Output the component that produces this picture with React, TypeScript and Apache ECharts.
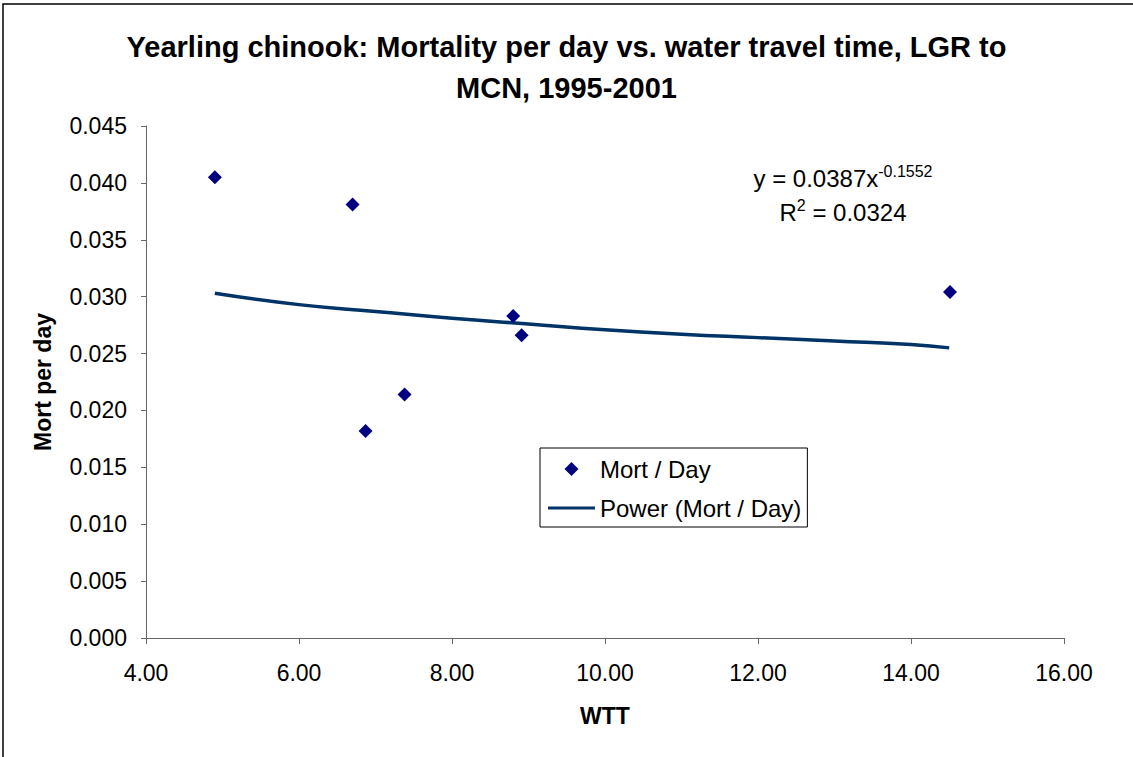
import * as echarts from "echarts";
import { useEffect, useRef } from "react";

// Water travel time (days) and mortality per day
const wtt = [4.9, 6.7, 6.87, 7.38, 8.8, 8.91, 14.51];
const mortPerDay = [0.0405, 0.0381, 0.0182, 0.0214, 0.0283, 0.0266, 0.0304];

// Power trend line as drawn by the spreadsheet
const trendX = [4.9, 6, 7, 8, 9, 10, 11, 12, 13, 14, 14.5];
const trendY = [0.0303, 0.0293, 0.0287, 0.0281, 0.0276, 0.0271, 0.0267, 0.0264, 0.0261, 0.0258, 0.0255];

const titleLines = ["Yearling chinook: Mortality per day vs. water travel time, LGR to", "MCN, 1995-2001"];
const equation = "y = 0.0387x";
const exponent = "-0.1552";
const rSquared = "0.0324";

const FONT = "'Liberation Sans', Arial, sans-serif";
const MARKER = "#000080";
const TREND = "#003366";

export default function App() {
  const ref = useRef<HTMLDivElement | null>(null);

  useEffect(() => {
    if (!ref.current) {
      return;
    }
    document.body.style.margin = "0";

    const chart = echarts.init(ref.current, undefined, { renderer: "svg" });
    chart.setOption({
      animation: false,
      backgroundColor: "#ffffff",
      textStyle: { fontFamily: FONT, color: "#000" },
      title: {
        text: titleLines.join("\n"),
        left: "center",
        top: 21,
        textStyle: { fontFamily: FONT, fontSize: 29, fontWeight: "bold", color: "#000", lineHeight: 41 }
      },
      grid: { left: 146, right: 69, top: 126, bottom: 119, containLabel: false },
      legend: {
        orient: "vertical",
        left: 540,
        top: 448,
        padding: [9, 6, 7, 8],
        itemWidth: 47,
        itemHeight: 14,
        itemGap: 15,
        symbolKeepAspect: true,
        borderColor: "#000",
        borderWidth: 1,
        borderRadius: 0,
        textStyle: { fontFamily: FONT, fontSize: 24, color: "#000" },
        data: [
          { name: "Mort / Day", icon: "path://M7,0 L14,7 L7,14 L0,7 Z" },
          { name: "Power (Mort / Day)", icon: "path://M0,0 L47,0 L47,3 L0,3 Z" }
        ]
      },
      xAxis: {
        type: "value",
        min: 4,
        max: 16,
        interval: 2,
        name: "WTT",
        nameLocation: "middle",
        nameGap: 66,
        nameTextStyle: { fontFamily: FONT, fontSize: 23, fontWeight: "bold", color: "#000" },
        axisLine: { show: true, onZero: false, lineStyle: { color: "#666", width: 1 } },
        axisTick: { show: true, inside: false, length: 6, lineStyle: { color: "#666" } },
        axisLabel: {
          margin: 23,
          fontFamily: FONT,
          fontSize: 23,
          color: "#000",
          formatter: (v: number) => v.toFixed(2)
        },
        splitLine: { show: false }
      },
      yAxis: {
        type: "value",
        min: 0,
        max: 0.045,
        interval: 0.005,
        name: "Mort per day",
        nameLocation: "middle",
        nameGap: 92,
        nameTextStyle: { fontFamily: FONT, fontSize: 23, fontWeight: "bold", color: "#000" },
        axisLine: { show: true, lineStyle: { color: "#666", width: 1 } },
        axisTick: { show: true, inside: false, length: 5, lineStyle: { color: "#666" } },
        axisLabel: {
          margin: 19,
          fontFamily: FONT,
          fontSize: 23,
          color: "#000",
          formatter: (v: number) => v.toFixed(3)
        },
        splitLine: { show: false }
      },
      series: [
        {
          name: "Mort / Day",
          type: "scatter",
          symbol: "diamond",
          symbolSize: 14,
          itemStyle: { color: MARKER, opacity: 1 },
          data: wtt.map((x, i) => [x, mortPerDay[i]]),
          z: 3
        },
        {
          name: "Power (Mort / Day)",
          type: "line",
          symbol: "none",
          smooth: true,
          lineStyle: { color: TREND, width: 3.5 },
          itemStyle: { color: TREND },
          data: trendX.map((x, i) => [x, trendY[i]]),
          z: 2
        }
      ],
      graphic: [
        {
          type: "rect",
          shape: { x: 3, y: 4, width: 1200, height: 900 },
          style: { fill: "none", stroke: "#000", lineWidth: 1.5 },
          silent: true
        },
        {
          type: "text",
          x: 843,
          y: 178,
          style: {
            text: `${equation}{sup|${exponent}}`,
            align: "center",
            verticalAlign: "middle",
            font: `24px ${FONT}`,
            fill: "#000",
            rich: {
              sup: { fontFamily: FONT, fontSize: 16, verticalAlign: "top", padding: [0, 0, 14, 0], fill: "#000" }
            }
          }
        },
        {
          type: "text",
          x: 843,
          y: 212,
          style: {
            text: `R{sup|2} = ${rSquared}`,
            align: "center",
            verticalAlign: "middle",
            font: `24px ${FONT}`,
            fill: "#000",
            rich: {
              sup: { fontFamily: FONT, fontSize: 16, verticalAlign: "top", padding: [0, 0, 14, 0], fill: "#000" }
            }
          }
        }
      ]
    });

    const resize = () => chart.resize();
    window.addEventListener("resize", resize);
    return () => {
      window.removeEventListener("resize", resize);
      chart.dispose();
    };
  }, []);

  return <div ref={ref} style={{ width: 1133, height: 757 }} />;
}
